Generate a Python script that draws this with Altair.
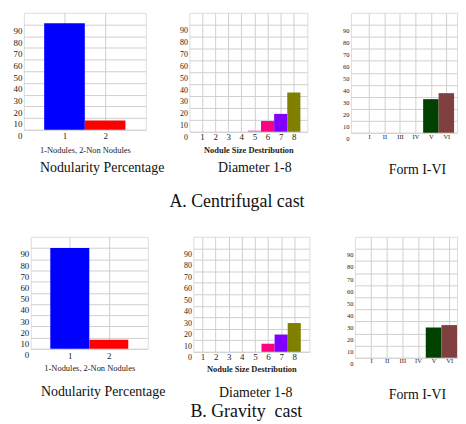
import json
import altair as alt
import pandas as pd

SERIF = "Liberation Serif, Times New Roman, Times, serif"
GRID = "#cfcfcf"
TXT = "#222222"

# ---- data -------------------------------------------------------------
nod_cats = [1, 2]
nod_colors = ["#0000ff", "#ff0000"]
nod_a = [91, 8]
nod_b = [90, 8]

size_cats = [1, 2, 3, 4, 5, 6, 7, 8]
size_colors = ["#999999", "#999999", "#999999", "#999999",
               "#ff66cc", "#ff0080", "#8000ff", "#808000"]
size_a = [0, 0, 0, 0, 1, 9, 15, 33]
size_b = [0, 0, 0, 0, 0, 7, 15, 25]

form_cats = [1, 2, 3, 4, 5, 6]
form_labels = ["I", "II", "III", "IV", "V", "VI"]
form_colors = ["#999999", "#999999", "#999999", "#999999", "#004000", "#804040"]
form_a = [0, 0, 0, 0, 28, 33]
form_b = [0, 0, 0, 0, 25, 27]

y_ticks = [0, 10, 20, 30, 40, 50, 60, 70, 80, 90]

captions = ["Nodularity Percentage", "Diameter 1-8", "Form I-VI"]
x_titles = ["1-Nodules, 2-Non Nodules", "Nodule Size Destribution"]
row_titles = ["A. Centrifugal cast", "B. Gravity\u00a0 cast"]


def panel(cats, vals, colors, width, height, xdomain, lab_size, lab_pad,
          ylab_size, caption, cap_dx, cap_offset, xtitle=None,
          title_weight="normal", title_pad=3, label_expr=None):
    df = pd.DataFrame({"cat": cats, "val": vals, "col": colors})
    xkw = dict(values=cats, labelAngle=0, ticks=False, domain=False,
               labelPadding=lab_pad, labelFontSize=lab_size, labelFont=SERIF,
               labelColor=TXT, labelFlush=False, labelOverlap=False,
               gridColor=GRID, gridWidth=1)
    if xtitle:
        xkw.update(title=xtitle, titleFont=SERIF, titleFontSize=8.5,
                   titleFontWeight=title_weight, titleColor=TXT,
                   titlePadding=title_pad)
    else:
        xkw.update(title=None)
    if label_expr:
        xkw.update(labelExpr=label_expr)
    y_axis = alt.Axis(values=y_ticks, ticks=False, domain=False,
                      labelPadding=2, labelFontSize=ylab_size,
                      labelFont=SERIF, labelColor=TXT, labelOffset=6,
                      labelBaseline="middle", labelOverlap=False,
                      gridColor=GRID, gridWidth=1, title=None)
    return (
        alt.Chart(df)
        .transform_calculate(lo="datum.cat - 0.5", hi="datum.cat + 0.5")
        .mark_bar()
        .encode(
            x=alt.X("lo:Q", scale=alt.Scale(domain=xdomain, nice=False, zero=False),
                    axis=alt.Axis(**xkw)),
            x2="hi:Q",
            y=alt.Y("val:Q", scale=alt.Scale(domain=[0, 100], nice=False),
                    axis=y_axis),
            y2=alt.datum(0),
            color=alt.Color("col:N", scale=None),
        )
        .properties(
            width=width, height=height,
            title=alt.TitleParams(caption, orient="bottom", anchor="middle",
                                  frame="group", dx=cap_dx, offset=cap_offset,
                                  fontSize=14, font=SERIF, fontWeight="normal",
                                  color="#111111"),
        )
    )


roman_expr = json.dumps([""] + form_labels) + "[datum.value]"

a1 = panel(nod_cats, nod_a, nod_colors, 123, 118, [0, 3], 9, 2, 9,
           captions[0], 17.5, 7, xtitle=x_titles[0], title_pad=5)
a2 = panel(size_cats, size_a, size_colors, 119, 120, [0.04, 9.03], 9, 1, 8,
           captions[1], 6.5, 7, xtitle=x_titles[1], title_weight="bold",
           title_pad=4)
a3 = panel(form_cats, form_a, form_colors, 107, 121, [-0.17, 6.69], 6.5, 1, 6.5,
           captions[2], 13.5, 21, label_expr=roman_expr)

b1 = panel(nod_cats, nod_b, nod_colors, 118, 113, [0, 3], 9, 2.5, 9,
           captions[0], 14, 14, xtitle=x_titles[0], title_pad=3)
b2 = panel(size_cats, size_b, size_colors, 117, 116, [0.3, 9.15], 9, 1, 8,
           captions[1], 4.5, 12.7, xtitle=x_titles[1], title_weight="bold",
           title_pad=3)
b3 = panel(form_cats, form_b, form_colors, 103, 122, [-0.035, 6.5], 6.5, 0, 6.5,
           captions[2], 11.5, 21, label_expr=roman_expr)

spacer = (
    alt.Chart(pd.DataFrame({"s": [0]}))
    .mark_point(opacity=0, size=1)
    .encode(x=alt.X("s:Q", axis=None), y=alt.Y("s:Q", axis=None))
    .properties(width=1, height=1, view=alt.ViewBackground(stroke="transparent"))
)


def row_title(text, dx, offset):
    return alt.TitleParams(text, orient="bottom", anchor="middle", dx=dx,
                           offset=offset, fontSize=18, font=SERIF,
                           fontWeight="normal", color="#111111")


row_a = alt.hconcat(
    a1, a2, a3,
    spacing=44, bounds="flush",
    title=row_title(row_titles[0], 2, 15.7),
)
row_b = alt.hconcat(
    spacer,
    alt.hconcat(b1, b2, b3, spacing=46, bounds="flush"),
    spacing=6, bounds="flush",
    title=row_title(row_titles[1], 8, 1),
)

chart = (
    alt.vconcat(row_a, row_b, spacing=25)
    .properties(padding={"left": 4, "top": 2, "right": 0, "bottom": 0})
    .configure_view(stroke="#c4c4c4")
    .configure(background="white")
)

chart.save("out.html", embed_options={"renderer": "svg", "actions": False})
